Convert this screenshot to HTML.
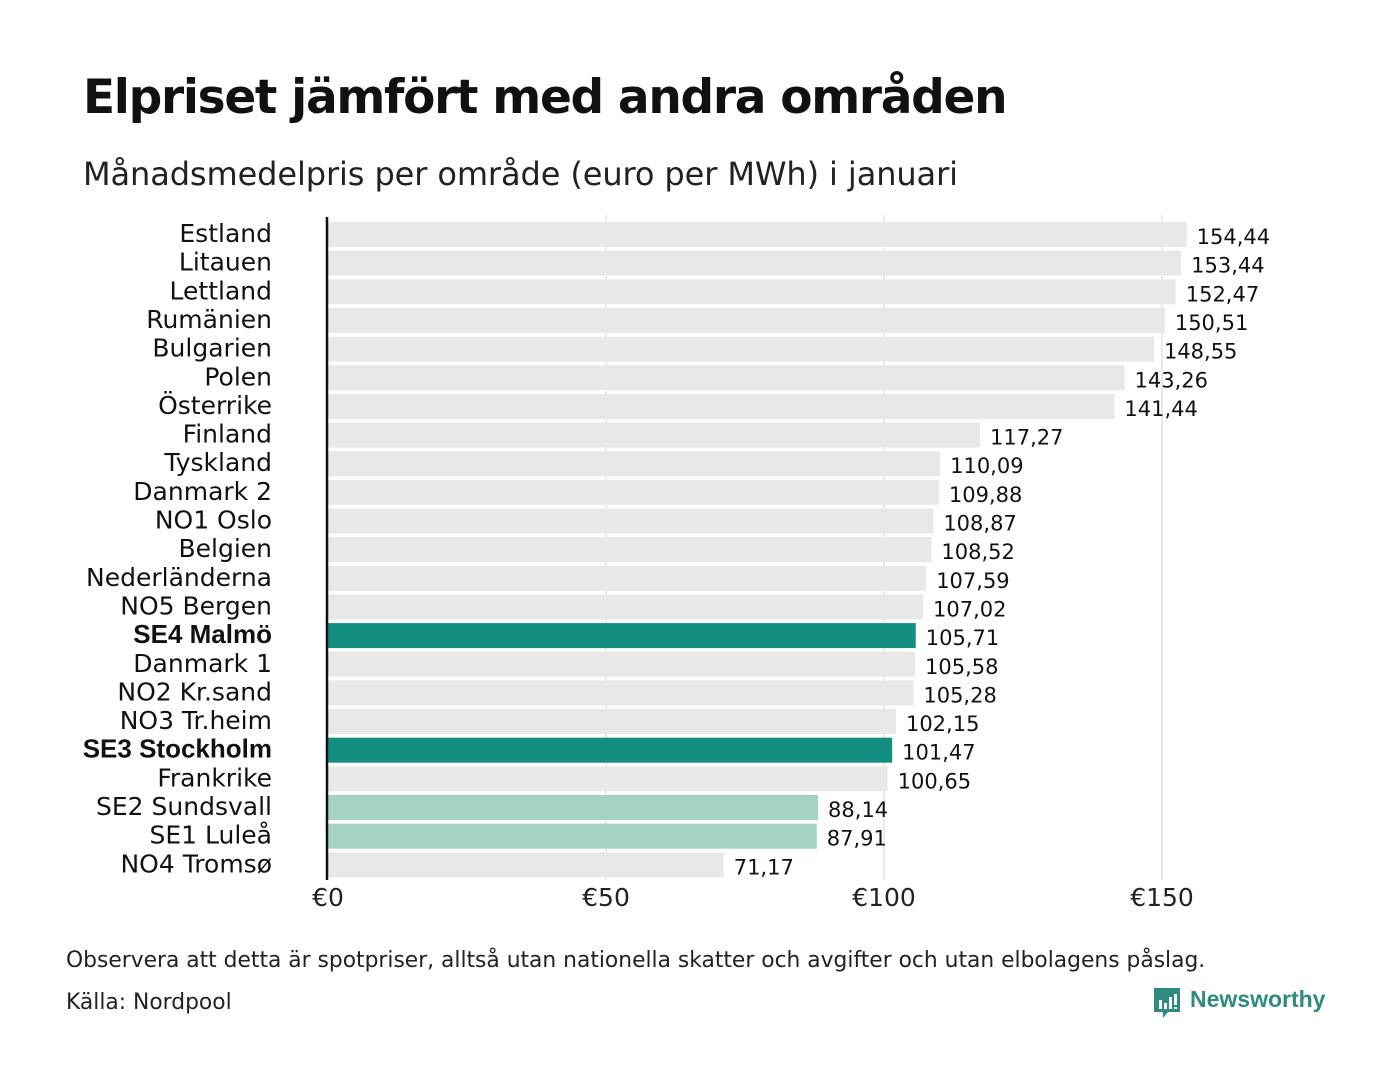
<!DOCTYPE html>
<html><head><meta charset="utf-8"><style>
body{margin:0;background:#fff;width:1400px;height:1080px;overflow:hidden;font-family:"DejaVu Sans","Liberation Sans",sans-serif;}
#title{position:absolute;left:83px;top:70px;font-size:47px;font-weight:bold;color:#111;font-family:"DejaVu Sans",sans-serif;letter-spacing:-1.3px}
#sub{position:absolute;left:83px;top:155px;font-size:32px;color:#222;letter-spacing:-0.1px}
.note{position:absolute;left:66px;font-size:21.8px;color:#222}
</style></head><body>
<div id="title">Elpriset jämfört med andra områden</div>
<div id="sub">Månadsmedelpris per område (euro per MWh) i januari</div>
<svg id="chart" width="1400" height="1080" style="position:absolute;left:0;top:0"></svg>
<div class="note" style="top:948px">Observera att detta är spotpriser, alltså utan nationella skatter och avgifter och utan elbolagens påslag.</div>
<div class="note" style="top:990px">Källa: Nordpool</div>
<div style="position:absolute;left:1152px;top:986px">
<svg width="32" height="36" style="position:absolute;left:0;top:0"><path d="M2 2h26v24h-12l-5 6v-6h-9z" fill="#2e8b7e"/><rect x="7" y="14" width="3" height="9" fill="#fff"/><rect x="12" y="17" width="3" height="6" fill="#fff"/><rect x="17" y="11" width="3" height="12" fill="#fff"/><rect x="22" y="8" width="3" height="11" fill="#fff"/><rect x="22" y="21" width="3" height="2" fill="#fff"/></svg>
<span style="position:absolute;left:38px;top:0;font-size:23px;font-weight:bold;color:#2e8b7e;font-family:'Liberation Sans',sans-serif">Newsworthy</span></div>
<script>
const categories=["Estland","Litauen","Lettland","Rumänien","Bulgarien","Polen","Österrike","Finland","Tyskland","Danmark  2","NO1 Oslo","Belgien","Nederländerna","NO5 Bergen","SE4 Malmö","Danmark  1","NO2 Kr.sand","NO3 Tr.heim","SE3 Stockholm","Frankrike","SE2  Sundsvall","SE1  Luleå","NO4 Tromsø"];
const values=[154.44,153.44,152.47,150.51,148.55,143.26,141.44,117.27,110.09,109.88,108.87,108.52,107.59,107.02,105.71,105.58,105.28,102.15,101.47,100.65,88.14,87.91,71.17];
const highlight=["SE4 Malmö","SE3 Stockholm"];
const lightHighlight=["SE2  Sundsvall","SE1  Luleå"];
const ticks=[0,50,100,150];
const tickLabels=["€0","€50","€100","€150"];
const svg=document.getElementById('chart');const NS='http://www.w3.org/2000/svg';
const x=v=>328+v*(1162-328)/150;
const y=i=>222+i*28.65;
function mk(t,a){const e=document.createElementNS(NS,t);for(const k in a)e.setAttribute(k,a[k]);svg.appendChild(e);return e;}
ticks.forEach((t,i)=>{
 if(t>0){const g=mk('line',{x1:x(t),x2:x(t),y1:215,y2:880,stroke:'#d6d6d6','stroke-width':1});
 
 }
 const l=mk('text',{x:x(t),y:906,'text-anchor':'middle','font-size':25,fill:'#222','font-family':'DejaVu Sans,sans-serif'});l.textContent=tickLabels[i];
 
 
});
categories.forEach((c,i)=>{
 const col=highlight.includes(c)?'#128f80':lightHighlight.includes(c)?'#a5d1c7':'#e8e8e8';
 const r=mk('rect',{x:x(0),y:y(i),width:x(values[i])-x(0),height:25,fill:col});
 
 
 const b=highlight.includes(c);
 const t=mk('text',{x:272,y:y(i)+20,'text-anchor':'end','font-size':b?26:25,'font-weight':b?'bold':'normal',fill:'#111','font-family':b?'Liberation Sans,sans-serif':'DejaVu Sans,sans-serif'});t.textContent=c;
 
 
 const v=mk('text',{x:x(values[i])+10,y:y(i)+22,'font-size':21,fill:'#111','font-family':'DejaVu Sans,sans-serif'});v.textContent=values[i].toFixed(2).replace('.',',');
 
 
});
const ax=mk('line',{x1:327,x2:327,y1:217,y2:880,stroke:'#111','stroke-width':2.5});


</script>
</body></html>
